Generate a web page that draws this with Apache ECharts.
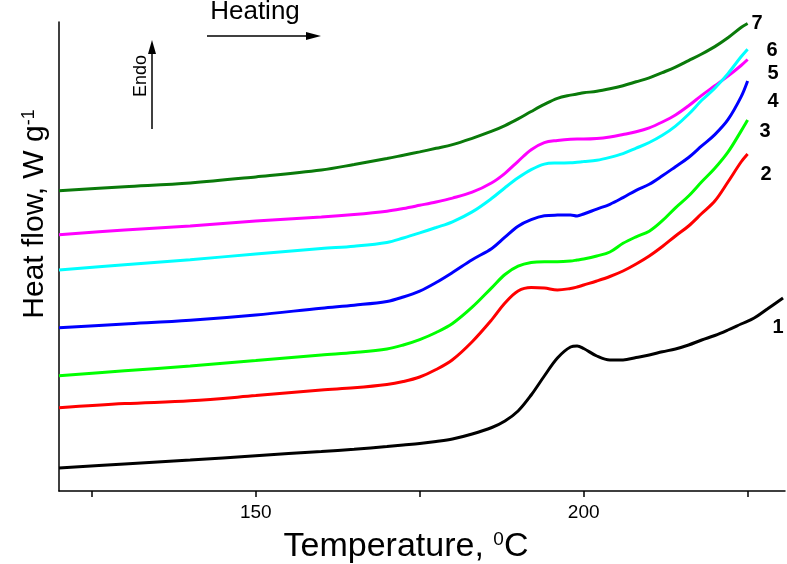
<!DOCTYPE html>
<html><head><meta charset="utf-8">
<script src="https://cdn.jsdelivr.net/npm/echarts@6/dist/echarts.min.js"></script>
<style>html,body{margin:0;padding:0;background:#fff}#c{width:787px;height:564px}</style>
</head><body><div id="c"></div>
<script>
// Temperatures (°C) for curves 2–7
const temps = [120,130,140,150,160,165,170,172.5,175,177.5,180,183,186,188,190,192,194,196,198,199,200,202,204,206,208,210,212,214,216,218,220,222,224,225];
// Temperatures (°C) for curve 1
const tempsBlack = [120,130,140,150,160,165,170,172.5,175,177.5,180,183,186,188,190,192,194,196,198,199,200,202,204,206,208,210,212,214,216,218,220,222,224,226,228,230.4];

// Heat flow (arbitrary offset units)
const curve1 = [23,27,30.9,35.3,39.5,41.8,44.5,46,47.5,49.5,52,57,63.5,70,80,96,115,133,144,145,142.5,135,131,131,133.5,136,139.2,142,146,151,155.5,161,167,173,182,193];
const curve2 = [83.3,87.4,90.2,95.4,101,103.2,106.5,109.5,114,121.5,131.3,149.3,171.4,188,200,203.5,203,201,202.5,204,206,210,214.5,220,227,235,244.5,255,265,277.5,290,309,329,337];
const curve3 = [115.3,120.2,125,130.4,136,138.5,142,146,151.4,158.5,167.5,183.8,203.4,216.5,224.8,228.5,229.3,229.3,230,231,232,235,239,247.7,254.2,259.8,270.3,283.2,295,309.2,322.7,338.8,359.9,371];
const curve4 = [163.3,167,170.7,176,182.8,185.8,189.5,194,199.9,208.5,218.5,231.3,242.6,253.9,264.8,271.3,275.2,275.9,276,275,277,281.9,286.7,293.4,300.7,306.8,315.2,324.3,333.5,345.1,356.4,371.3,394.1,410];
const curve5 = [256.3,261,265,270,274,276.5,279.8,282.5,285.7,289,292.9,298.8,308.3,317.7,329.7,341.3,348.4,350.6,351.8,351.9,351.9,352.4,354,356.5,359.3,363.2,369,376,385.2,395.6,405.2,414.9,425.5,431.5];
const curve6 = [221,226.2,231.3,237,242.5,244.8,248.5,253,258.1,263.5,269.2,279.1,292.7,303.3,313.2,321.4,326.9,328,328.2,328.8,329.4,330.7,333.6,337.4,342.8,348.5,355.7,364.9,376.7,390.7,402.8,417.4,434.2,441.8];
const curve7 = [300.3,304.2,308,314.1,321,326.5,332.5,335.8,339.1,342.7,346.4,352.7,359.8,365.4,372.1,379.5,386.6,392.7,395.9,397,398.2,399.7,402.2,405.3,409.2,413.2,418.4,423.9,430.4,437,444.4,453.2,463.5,467.5];

const curveNames = ['1','2','3','4','5','6','7'];
const curveColors = ['#000000','#ff0000','#00ff00','#0000ff','#ff00ff','#00ffff','#0a7a0a'];
const xTickValues = [125,150,175,200,225];
const xLabelValues = [150,200];

const chart = echarts.init(document.getElementById('c'), null, {renderer:'canvas'});
const allCurves = [curve1,curve2,curve3,curve4,curve5,curve6,curve7];
const series = allCurves.map((vals, k) => {
  const xs = k === 0 ? tempsBlack : temps;
  return {
    name: curveNames[k], type: 'line', showSymbol: false, smooth: 0.35,
    data: vals.map((v, i) => [xs[i], v]),
    lineStyle: {color: curveColors[k], width: 3},
    itemStyle: {color: curveColors[k]},
    z: 3
  };
});

const font = '"Liberation Sans", Arial, sans-serif';
const numLabel = (txt, x, y) => ({type:'text', x:x, y:y, style:{text:txt, fill:'#000', font:'bold 20px ' + font, textAlign:'center', textVerticalAlign:'middle'}});

chart.setOption({
  animation: false,
  backgroundColor: '#fff',
  grid: {left: 59, right: 2, top: 22, bottom: 73, containLabel: false},
  xAxis: {
    type: 'value', min: 120, max: 230.7,
    axisLine: {show: true, onZero: false, lineStyle: {color: '#000', width: 1.5}},
    axisTick: {show: true, customValues: xTickValues, length: 6, inside: false, lineStyle: {color: '#000', width: 1.5}},
    axisLabel: {show: true, customValues: xLabelValues, fontSize: 19, color: '#000', margin: 12, fontFamily: '"Liberation Sans Narrow", "Liberation Sans", Arial, sans-serif'},
    splitLine: {show: false}
  },
  yAxis: {
    type: 'value', min: 0, max: 469,
    axisLine: {show: true, onZero: false, lineStyle: {color: '#000', width: 1.5}},
    axisTick: {show: false}, axisLabel: {show: false}, splitLine: {show: false}
  },
  series: series,
  graphic: [
    {type:'text', x: 406, y: 547, style:{text:'{a|Temperature, }{s|0}{a|C}', textAlign:'center', textVerticalAlign:'middle',
      rich:{a:{fontSize:34, fontFamily:font, fill:'#000'}, s:{fontSize:19, fontFamily:font, fill:'#000', verticalAlign:'top'}}}},
    {type:'text', x: 35, y: 214, rotation: Math.PI/2, style:{text:'{a|Heat flow, W g}{s|-1}', textAlign:'center', textVerticalAlign:'middle',
      rich:{a:{fontSize:30, fontFamily:font, fill:'#000'}, s:{fontSize:18, fontFamily:font, fill:'#000', verticalAlign:'top'}}}},
    {type:'text', x: 255, y: 12, style:{text:'Heating', fill:'#000', font:'26px ' + font, textAlign:'center', textVerticalAlign:'middle'}},
    {type:'line', shape:{x1:207, y1:36, x2:310, y2:36}, style:{stroke:'#000', lineWidth:1.5}},
    {type:'polygon', shape:{points:[[306,32],[321,36],[306,40]]}, style:{fill:'#000'}},
    {type:'text', x: 141, y: 76, rotation: Math.PI/2, style:{text:'Endo', fill:'#000', font:'18px ' + font, textAlign:'center', textVerticalAlign:'middle'}},
    {type:'line', shape:{x1:152, y1:129, x2:152, y2:50}, style:{stroke:'#000', lineWidth:1.5}},
    {type:'polygon', shape:{points:[[148,54],[152,40],[156,54]]}, style:{fill:'#000'}},
    numLabel('7', 757, 23), numLabel('6', 772, 50), numLabel('5', 773, 73), numLabel('4', 773, 101),
    numLabel('3', 765, 131), numLabel('2', 766, 174), numLabel('1', 778, 327)
  ]
});
</script>
</body></html>
